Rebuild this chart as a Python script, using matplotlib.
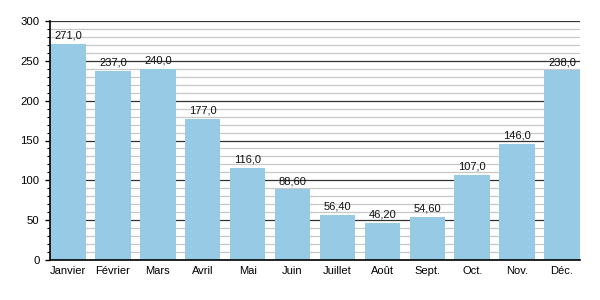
import matplotlib
matplotlib.use("Agg")
import matplotlib.pyplot as plt
from matplotlib.ticker import MultipleLocator

months = ["Janvier", "Février", "Mars", "Avril", "Mai", "Juin", "Juillet",
          "Août", "Sept.", "Oct.", "Nov.", "Déc."]
values = [271.0, 237.0, 240.0, 177.0, 116.0, 88.6, 56.4, 46.2, 54.6, 107.0, 146.0, 238.0]
labels = ["271,0", "237,0", "240,0", "177,0", "116,0", "88,60", "56,40",
          "46,20", "54,60", "107,0", "146,0", "238,0"]

plt.rcParams['font.family'] = ['Liberation Sans', 'DejaVu Sans']

fig = plt.figure(figsize=(6, 3), dpi=100)
ax = fig.add_axes([50/600, 1-260/300, 530/600, 239/300])

x = list(range(len(months)))
ax.bar(x, values, width=0.79, color="#97CBE5", zorder=3)
for xi, v, lab in zip(x, values, labels):
    ax.annotate(lab, (xi, v), xytext=(0, 3.8), textcoords="offset points",
                ha="center", va="baseline", fontsize=8, color="#111111", zorder=4)

ax.set_xlim(-0.4, 11.4)
ax.set_ylim(0, 300)
ax.yaxis.set_major_locator(MultipleLocator(50))
ax.yaxis.set_minor_locator(MultipleLocator(10))
ax.grid(axis="y", which="major", color="#333333", linewidth=0.9, zorder=1)
ax.grid(axis="y", which="minor", color="#c8c8c8", linewidth=0.9, zorder=1)
ax.set_axisbelow(True)

ax.set_xticks(x)
ax.set_xticklabels(months)
ax.tick_params(axis="x", length=0, labelsize=8, pad=4)
ax.tick_params(axis="y", which="major", direction="out", length=3.5, width=1, labelsize=8.2, pad=4)
ax.tick_params(axis="y", which="minor", direction="out", length=2, width=0.8)

for s in ["top", "right"]:
    ax.spines[s].set_visible(False)
for s in ["left", "bottom"]:
    ax.spines[s].set_linewidth(1.2)
    ax.spines[s].set_zorder(5)

fig.savefig("out.png", dpi=100)
